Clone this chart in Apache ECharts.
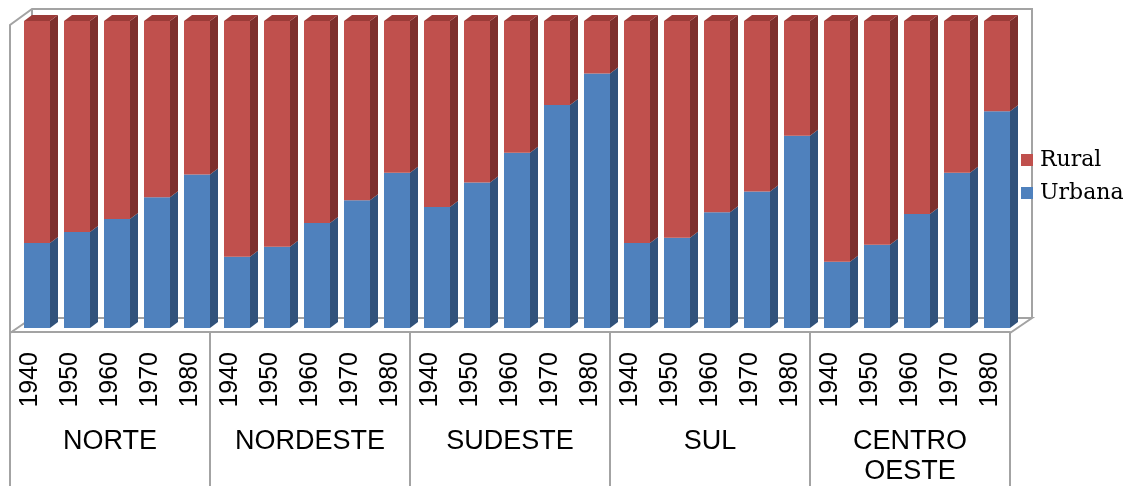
<!DOCTYPE html>
<html>
<head>
<meta charset="utf-8">
<script src="https://cdn.jsdelivr.net/npm/echarts@6/dist/echarts.min.js"></script>
<style>
  html, body { margin: 0; padding: 0; background: #fff; }
  #chart { width: 1129px; height: 487px; }
</style>
</head>
<body>
<div id="chart"></div>
<script>
// categories
const regions = ['NORTE', 'NORDESTE', 'SUDESTE', 'SUL', 'CENTRO\nOESTE'];
const years = ['1940', '1950', '1960', '1970', '1980'];
// percent of population, 5 years per region in the order above
const urbana = [27.7, 31.3, 35.5, 42.6, 50.0, 23.2, 26.5, 34.2, 41.6, 50.6, 39.4, 47.4, 57.1, 72.6, 82.9, 27.7, 29.4, 37.7, 44.5, 62.6, 21.6, 27.1, 37.1, 50.6, 70.6];
const rural = [72.3, 68.7, 64.5, 57.4, 50.0, 76.8, 73.5, 65.8, 58.4, 49.4, 60.6, 52.6, 42.9, 27.4, 17.1, 72.3, 70.6, 62.3, 55.5, 37.4, 78.4, 72.9, 62.9, 49.4, 29.4];

const yearLabels = [];
regions.forEach(() => years.forEach(y => yearLabels.push(y)));

const urbanaData = urbana.map((v, i) => [i, 0, v]);
const ruralData = rural.map((v, i) => [i, urbana[i], urbana[i] + v]);

const GRAY = '#A3A3A3';

// 3d-ish box bar: front face, side face, top face
function makeRender(front, side, top, withTop) {
  return function (params, api) {
    const c = api.value(0);
    const p0 = api.coord([c, api.value(1)]);
    const p1 = api.coord([c, api.value(2)]);
    const band = api.size([1, 0])[0];
    const w = band * 0.65;
    const x0 = p0[0] - w / 2 + 7;
    const yb = p0[1] - 4, yt = p1[1] - 4;
    const dx = 8, dy = 6;
    const children = [
      { type: 'rect', shape: { x: x0, y: yt, width: w, height: yb - yt }, style: { fill: front } },
      { type: 'polygon', shape: { points: [[x0 + w, yb], [x0 + w + dx, yb - dy], [x0 + w + dx, yt - dy], [x0 + w, yt]] }, style: { fill: side } }
    ];
    if (withTop) {
      children.push({ type: 'polygon', shape: { points: [[x0, yt], [x0 + dx, yt - dy], [x0 + w + dx, yt - dy], [x0 + w, yt]] }, style: { fill: top } });
    }
    return { type: 'group', children: children };
  };
}

const chart = echarts.init(document.getElementById('chart'));

const line = (pts) => ({
  type: 'polyline', z: -1,
  shape: { points: pts },
  style: { stroke: GRAY, lineWidth: 2, fill: null }
});

chart.setOption({
  animation: false,
  grid: { left: 10, right: 119, top: 25, bottom: 154 },
  legend: {
    orient: 'vertical',
    left: 1016,
    top: 144,
    itemWidth: 12,
    itemHeight: 12,
    itemGap: 11,
    icon: 'rect',
    data: ['Rural', 'Urbana'],
    textStyle: { fontFamily: 'DejaVu Serif', fontSize: 22, color: '#000', padding: [0, 0, 0, 2] }
  },
  graphic: [
    line([[10, 333], [32, 318], [1032, 318], [1010, 333]]),
    line([[10, 333], [10, 25], [32, 9], [1032, 9], [1032, 318]]),
    line([[32, 9], [32, 318]])
  ],
  xAxis: [
    {
      type: 'category',
      data: yearLabels,
      axisLine: { show: true, lineStyle: { color: GRAY, width: 2 } },
      axisTick: { show: false },
      axisLabel: {
        interval: 0, rotate: 90, margin: 20,
        fontFamily: 'Liberation Sans, Arial', fontSize: 25, color: '#000'
      }
    },
    {
      type: 'category',
      position: 'bottom',
      data: regions,
      axisLine: { show: false },
      axisTick: { show: true, length: 154, lineStyle: { color: GRAY, width: 2 } },
      axisLabel: {
        interval: 0, margin: 95, lineHeight: 30,
        fontFamily: 'Liberation Sans, Arial', fontSize: 27, color: '#000'
      }
    }
  ],
  yAxis: { type: 'value', min: 0, max: 100, show: false, splitLine: { show: false } },
  series: [
    {
      name: 'Urbana', type: 'custom',
      itemStyle: { color: '#4F81BD' },
      encode: { x: 0, y: [1, 2] },
      data: urbanaData,
      renderItem: makeRender('#4F81BD', '#31527B', '#3E6797', false)
    },
    {
      name: 'Rural', type: 'custom',
      itemStyle: { color: '#C0504D' },
      encode: { x: 0, y: [1, 2] },
      data: ruralData,
      renderItem: makeRender('#C0504D', '#7D302E', '#9C3B38', true)
    }
  ]
});
</script>
</body>
</html>
